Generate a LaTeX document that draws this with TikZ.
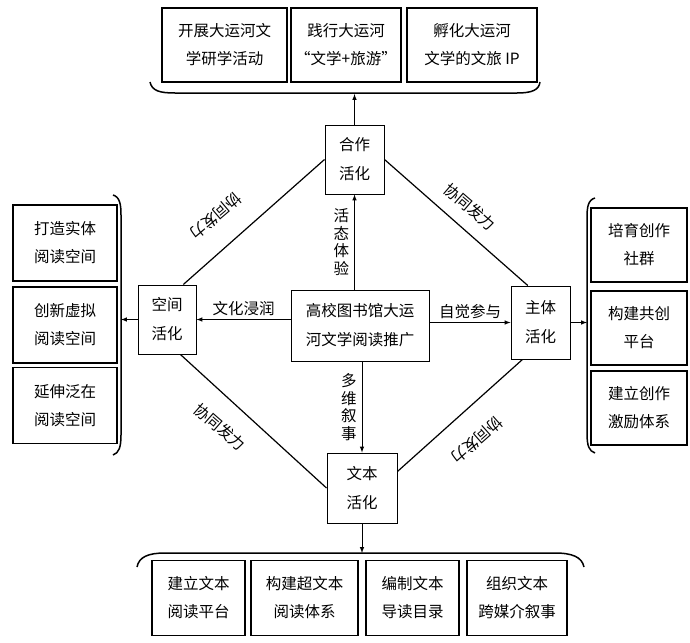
\documentclass[tikz,border=0pt]{standalone}
\usepackage{fontspec}
\setmainfont{Noto Sans CJK SC}
\usepackage{tikz}
\usetikzlibrary{positioning}
\usetikzlibrary{arrows}
\tikzset{item/.style={draw, line width=1.5pt, align=center, inner sep=0pt,
  font=\fontsize{15.5}{28}\selectfont}}
\tikzset{act/.style={draw, line width=1pt, align=center, inner sep=0pt,
  font=\fontsize{15.5}{29}\selectfont}}
\tikzset{lab/.style={inner sep=2pt, font=\fontsize{15.5}{17.5}\selectfont, align=center}}
\tikzset{brace/.style={line width=1.5pt}}

\begin{document}
\begin{tikzpicture}[x=1pt,y=-1pt,>=latex,line width=1pt]
\useasboundingbox (0,0) rectangle (690,642);
\node[act, minimum width=138pt, minimum height=71pt] (core) at (360,325.5) {高校图书馆大运\\河文学阅读推广};
\node[act, minimum width=59pt, minimum height=69pt] (coop) at (354.5,159.5) {合作\\活化};
\node[act, minimum width=58pt, minimum height=69pt] (space) at (167,319.5) {空间\\活化};
\node[act, minimum width=59pt, minimum height=73pt] (subj) at (540.5,322.5) {主体\\活化};
\node[act, minimum width=70pt, minimum height=70pt] (text) at (362,488) {文本\\活化};
% outer boxes
\foreach \n/\x/\w/\txt in {top1/224.5/125pt/{开展大运河文\\学研学活动},
  top2/346/110pt/{践行大运河\\“文学+旅游”},
  top3/472/130pt/{孵化大运河\\文学的文旅 IP}} {
\node[item, minimum width=\w, minimum height=74pt] (\n) at (\x,45) {\txt};
}
\foreach \n/\y/\txt in {left1/243/{打造实体\\阅读空间},
  left2/325/{创新虚拟\\阅读空间},
  left3/405.5/{延伸泛在\\阅读空间}} {
\node[item, minimum width=104pt, minimum height=76pt] (\n) at (65,\y) {\txt};
}
\foreach \n/\y/\txt in {right1/245/{培育创作\\社群},
  right2/328/{构建共创\\平台},
  right3/408/{建立创作\\激励体系}} {
\node[item, minimum width=96pt, minimum height=74pt] (\n) at (639,\y) {\txt};
}
\foreach \n/\x/\w/\txt in {bot1/198.5/93pt/{建立文本\\阅读平台},
  bot2/304.5/107pt/{构建超文本\\阅读体系},
  bot3/412.5/93pt/{编制文本\\导读目录},
  bot4/517/100pt/{组织文本\\跨媒介叙事}} {
\node[item, minimum width=\w, minimum height=75pt] (\n) at (\x,598) {\txt};
}
% braces
\draw[brace] (150,82) .. controls (152,91) and (160,93) .. (175,93) -- (517,93) .. controls (532,93) and (539,90) .. (540,82);
\draw[brace] (137,567) .. controls (139,557) and (148,553) .. (165,553) -- (555,553) .. controls (572,553) and (582,557) .. (584,567);
\draw[brace] (113,195) .. controls (120,197) and (121,205) .. (121,215) -- (121,435) .. controls (121,447) and (119,453) .. (113,455);
\draw[brace] (595,198) .. controls (588,200) and (587,207) .. (587,218) -- (587,433) .. controls (587,446) and (589,451) .. (595,453);
\coordinate (tb) at (355,94);
\coordinate (bb) at (358,553);
\coordinate (lb) at (121,320);
\coordinate (rb) at (587,322);
% arrows
\draw[->] (core.north -| coop) -- (coop.south) node[lab, midway, left=3pt] {活\\态\\体\\验};
\draw[->] (core.south -| text) -- (text.north) node[lab, midway, left=3pt] {多\\维\\叙\\事};
\draw[->] (space.east -| core.west) -- (space.east) node[lab, midway, above=1pt] {文化浸润};
\draw[->] (subj.west -| core.east) -- (subj.west) node[lab, midway, above=1pt] {自觉参与};
\draw[->] (space.west) -- (space.west -| lb);
\draw[->] (subj.east) -- (subj.east -| rb);
\draw[->] (coop.north) -- (coop.north |- tb);
\draw[->] (text.south) -- (text.south |- bb);
% diamond
\draw[line width=1.2pt] (coop.west) -- (space.65);
\draw[line width=1.2pt] (coop.east) -- (subj.109);
\draw[line width=1.2pt] (space.-69) -- (text.west);
\draw[line width=1.2pt] (subj.-116) -- (text.25);
\node[lab, rotate=220.4] (tl) at (216,216) {协同发力};
\node[lab, rotate=-40.6] (tr) at (470,207) {协同发力};
\node[lab, rotate=-41] (bl) at (220,427) {协同发力};
\node[lab, rotate=221.6] (br) at (477,440) {协同发力};
\end{tikzpicture}
\end{document}
